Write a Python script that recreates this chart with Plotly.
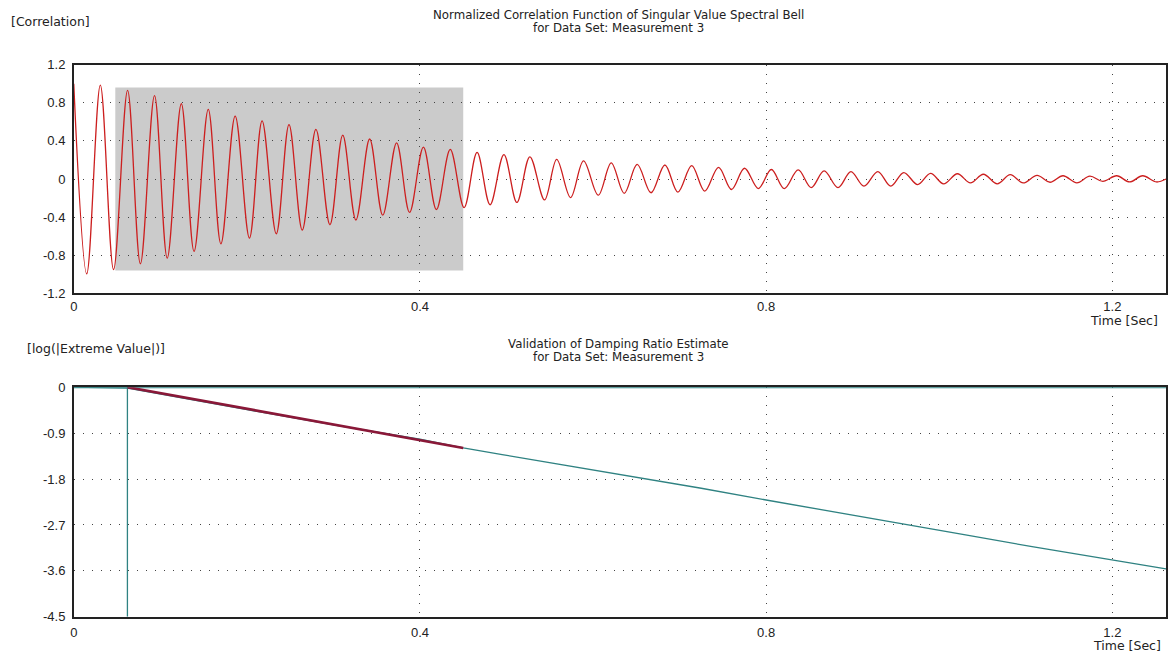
import plotly.graph_objects as go

# ---------------- data ----------------
# Top chart: extrema (peaks / troughs) of normalized correlation function
peak_t = [0.000, 0.0307, 0.0622, 0.0933, 0.1243, 0.1554, 0.1865, 0.2176, 0.2487, 0.2798,
          0.3108, 0.3419, 0.373, 0.404, 0.435, 0.466, 0.497, 0.527, 0.558, 0.589,
          0.621, 0.651, 0.683, 0.714, 0.745, 0.775, 0.806, 0.837, 0.867, 0.898,
          0.929, 0.959, 0.990, 1.021, 1.051, 1.082, 1.113, 1.143, 1.174, 1.205, 1.235]
peak_v = [1.0, 0.985, 0.93, 0.875, 0.79, 0.73, 0.66, 0.61, 0.57, 0.52,
          0.46, 0.42, 0.38, 0.335, 0.31, 0.28, 0.256, 0.233, 0.205, 0.19,
          0.17, 0.154, 0.147, 0.14, 0.123, 0.113, 0.10, 0.095, 0.085, 0.078,
          0.078, 0.068, 0.06, 0.055, 0.05, 0.045, 0.038, 0.034, 0.03, 0.034, 0.034]
trough_t = [0.015, 0.046, 0.077, 0.108, 0.139, 0.170, 0.203, 0.234, 0.264, 0.296,
            0.326, 0.357, 0.388, 0.419, 0.451, 0.481, 0.512, 0.544, 0.574, 0.606,
            0.636, 0.667, 0.698, 0.729, 0.760, 0.791, 0.821, 0.852, 0.883, 0.913,
            0.944, 0.975, 1.005, 1.036, 1.067, 1.097, 1.128, 1.159, 1.189, 1.220, 1.251]
trough_v = [-0.995, -0.95, -0.89, -0.83, -0.76, -0.68, -0.62, -0.575, -0.535, -0.48,
            -0.43, -0.38, -0.35, -0.32, -0.30, -0.27, -0.246, -0.22, -0.195, -0.17,
            -0.15, -0.144, -0.137, -0.127, -0.11, -0.10, -0.10, -0.09, -0.09, -0.075,
            -0.075, -0.058, -0.051, -0.041, -0.051, -0.041, -0.034, -0.041, -0.024, -0.031, -0.031]
end_t, end_v = 1.262, 0.0

# Highlighted window (gray box) on the correlation function
window_t = [0.048, 0.45]
window_v = [-0.96, 0.96]

# Bottom chart: log(|extreme value|) and fitted line
logext_t = [0.0, 0.062, 0.2, 0.3, 0.4, 0.45, 0.495, 0.6, 0.725, 0.8, 0.879,
            0.971, 1.032, 1.109, 1.2, 1.262]
logext_v = [0.0, -0.02, -0.44, -0.74, -1.02, -1.19, -1.32, -1.62, -1.98, -2.21, -2.44,
            -2.71, -2.90, -3.13, -3.39, -3.56]
fit_t = [0.062, 0.45]
fit_v = [0.0, -1.19]
cursor_t = 0.062

x_range = [0, 1.262]
x_ticks = [0, 0.4, 0.8, 1.2]
x_ticktext = ["0", "0.4", "0.8", "1.2"]
y1_ticks = [-1.2, -0.8, -0.4, 0, 0.4, 0.8, 1.2]
y1_ticktext = ["-1.2", "-0.8", "-0.4", "0", "0.4", "0.8", "1.2"]
y2_ticks = [-4.5, -3.6, -2.7, -1.8, -0.9, 0]
y2_ticktext = ["-4.5", "-3.6", "-2.7", "-1.8", "-0.9", "0"]

# ---------------- figure ----------------
pts = sorted(list(zip(peak_t, peak_v)) + list(zip(trough_t, trough_v)) + [(end_t, end_v)])
corr_t = [p[0] for p in pts]
corr_v = [p[1] for p in pts]

W, H = 1168, 662
def px(x):
    return x / W
def py(y):
    return 1 - y / H

FONT = "Liberation Sans, Arial, sans-serif"
TFONT = "DejaVu Sans, Verdana, sans-serif"
TEAL = "#2f8282"
RED = "#cc1f1f"
MAROON = "#8a1838"

fig = go.Figure()
fig.add_trace(go.Scatter(x=corr_t, y=corr_v, mode="lines",
                         line=dict(color=RED, width=1.3, shape="spline", smoothing=1.0),
                         xaxis="x", yaxis="y", showlegend=False, hoverinfo="skip"))

fig.add_trace(go.Scatter(x=x_range, y=[0, 0], mode="lines",
                         line=dict(color=TEAL, width=2), xaxis="x2", yaxis="y2",
                         showlegend=False, hoverinfo="skip"))
fig.add_trace(go.Scatter(x=[cursor_t, cursor_t], y=[y2_ticks[0], 0], mode="lines",
                         line=dict(color=TEAL, width=1.3), xaxis="x2", yaxis="y2",
                         showlegend=False, hoverinfo="skip"))
fig.add_trace(go.Scatter(x=logext_t, y=logext_v, mode="lines",
                         line=dict(color=TEAL, width=1.3), xaxis="x2", yaxis="y2",
                         showlegend=False, hoverinfo="skip"))
fig.add_trace(go.Scatter(x=fit_t, y=fit_v, mode="lines",
                         line=dict(color=MAROON, width=2.6), xaxis="x2", yaxis="y2",
                         showlegend=False, hoverinfo="skip"))

fig.add_shape(type="rect", xref="x", yref="y", x0=window_t[0], x1=window_t[1],
              y0=window_v[0], y1=window_v[1], fillcolor="#cbcbcb",
              line=dict(width=0), layer="below")

xdom = [px(70), px(1166)]
axis_common = dict(showline=True, linecolor="#222", linewidth=1.5, mirror=True,
                   ticks="", zeroline=False, showgrid=True, gridcolor="#444",
                   gridwidth=1, griddash="1px,8px",
                   tickfont=dict(family=FONT, size=13, color="#222"))

fig.update_layout(
    width=W, height=H, margin=dict(l=0, r=0, t=0, b=0),
    paper_bgcolor="white", plot_bgcolor="white",
    xaxis=dict(domain=xdom, range=x_range, tickvals=x_ticks, ticktext=x_ticktext,
               anchor="y", ticklabelstandoff=0, **axis_common),
    yaxis=dict(domain=[py(293), py(59)], range=[-1.2, 1.2], tickvals=y1_ticks,
               ticktext=y1_ticktext, anchor="x", ticklabelstandoff=4, **axis_common),
    xaxis2=dict(domain=xdom, range=x_range, tickvals=x_ticks, ticktext=x_ticktext,
                anchor="y2", ticklabelstandoff=3, **axis_common),
    yaxis2=dict(domain=[py(624), py(389)], range=[-4.5, 0], tickvals=y2_ticks,
                ticktext=y2_ticktext, anchor="x2", ticklabelstandoff=4, **axis_common),
)

def txt(s, x, y, xanchor="left", size=12):
    fig.add_annotation(text=s, x=px(x), y=py(y), xref="paper", yref="paper",
                       xanchor=xanchor, yanchor="middle", showarrow=False,
                       font=dict(family=TFONT, size=size, color="#222"))

txt("[Correlation]", 5, 15, size=12.5)
txt("Normalized Correlation Function of Singular Value Spectral Bell", 617, 8, "center", 11.8)
txt("for Data Set: Measurement 3", 617, 21, "center", 11.8)
txt("Time [Sec]", 1160, 321, "right", 12.5)
txt("[log(|Extreme Value|)]", 21, 349, size=12.5)
txt("Validation of Damping Ratio Estimate", 617, 345, "center", 11.8)
txt("for Data Set: Measurement 3", 617, 358, "center", 11.8)
txt("Time [Sec]", 1163, 653, "right", 12.5)

fig.write_html("out.html")
